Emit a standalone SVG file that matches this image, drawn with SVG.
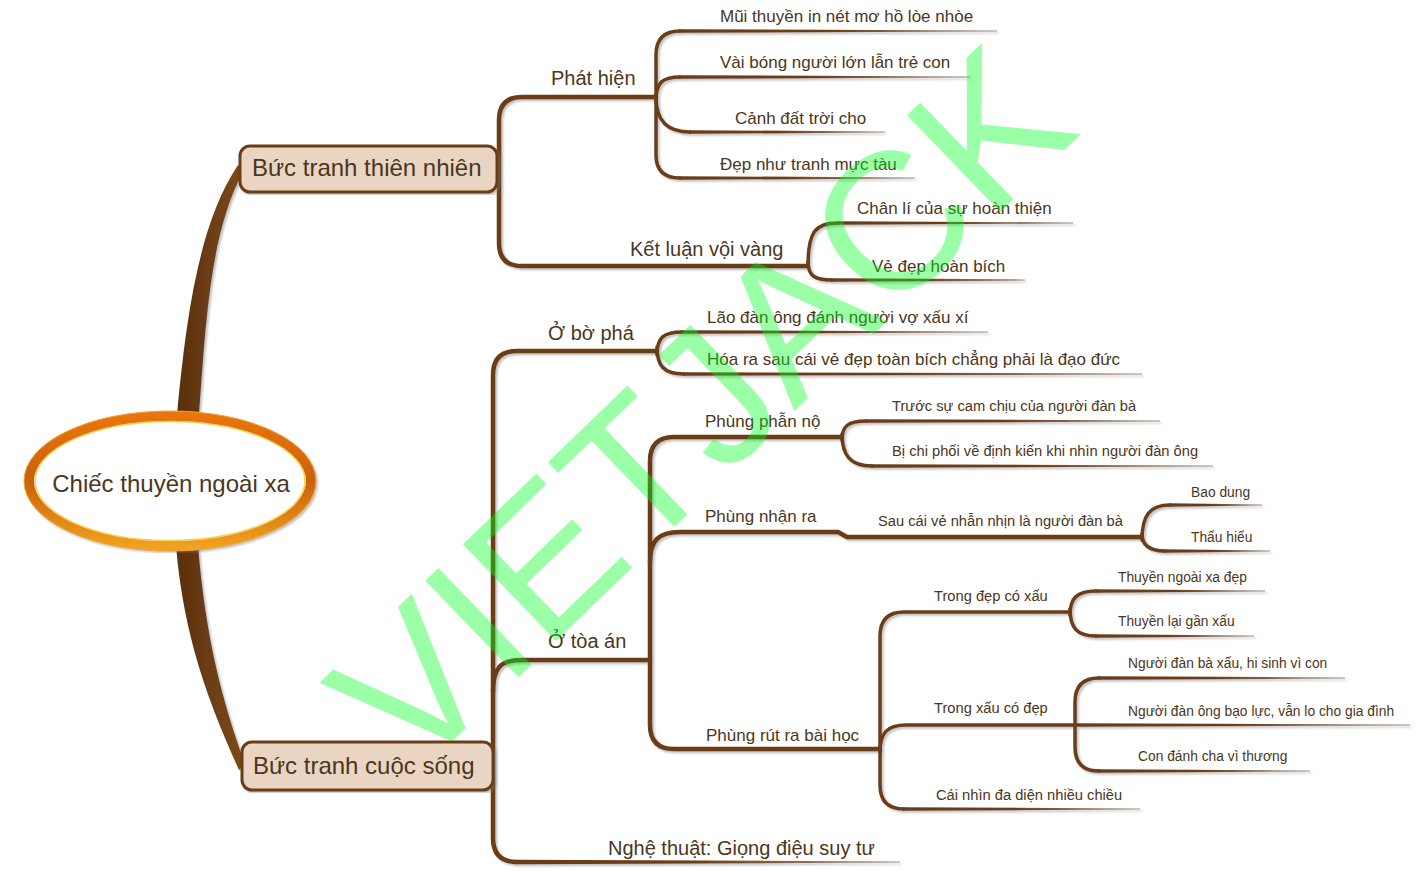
<svg xmlns="http://www.w3.org/2000/svg" width="1417" height="871" viewBox="0 0 1417 871">
<defs>
<style>
.t{font-family:"Liberation Sans",Arial,sans-serif;fill:#4b3621}
.l1{font-size:24px}
.l2{font-size:20px}
.l3{font-size:17px}
.l4{font-size:14.7px}
.l5{font-size:13.8px}
.c{fill:none;stroke:#6b3c14;stroke-linecap:round;stroke-linejoin:round}
.cm{stroke-width:4.5}
.cs{stroke-width:3.5}
.tp{fill:url(#tap)}
.node{fill:#ead5c3;stroke:#6b3c14;stroke-width:3}
.wm{font-family:"Liberation Sans",Arial,sans-serif;font-size:195px;fill:rgb(0,255,30);opacity:0.39}
</style>
<linearGradient id="tap" x1="0" y1="0" x2="1" y2="0">
<stop offset="0" stop-color="#6b3c14"/>
<stop offset="0.45" stop-color="#6b3c14"/>
<stop offset="1" stop-color="#a89484"/>
</linearGradient>
<linearGradient id="trk" x1="0" y1="0" x2="1" y2="0">
<stop offset="0" stop-color="#5a300e"/>
<stop offset="1" stop-color="#7e4a1a"/>
</linearGradient>
<linearGradient id="ring" x1="0" y1="0" x2="0" y2="1">
<stop offset="0" stop-color="#e8740e"/>
<stop offset="0.5" stop-color="#c9620a"/>
<stop offset="1" stop-color="#f0a020"/>
</linearGradient>
<filter id="sh" x="-5%" y="-5%" width="110%" height="110%">
<feDropShadow dx="2" dy="2" stdDeviation="1" flood-color="#777" flood-opacity="0.45"/>
</filter>
</defs>
<rect width="1417" height="871" fill="#ffffff"/>

<g id="connectors" filter="url(#sh)">
<path d="M 177 414 C 186 320 198 225 238 165 L 244 170 C 210 232 206 320 199 414 Z" fill="url(#trk)"/>
<path d="M 176 546 C 184 640 210 705 239 770 L 245 764 C 222 700 206 640 198 546 Z" fill="url(#trk)"/>

<path class="c cm" d="M 656 97 L 522 97 Q 499 97 499 120 L 499 243 Q 499 266 522 266 L 808 266"/>
<path class="c cs" d="M 656 97 L 656 55 Q 656 31 680 31"/>
<path class="c cs" d="M 656 100 C 656 83 662 77 680 77"/>
<path class="c cs" d="M 656 97 C 656 122 668 132 690 132"/>
<path class="c cs" d="M 656 97 L 656 155 Q 656 178 680 178"/>
<polygon class="tp" points="679,29.2 997,30.4 997,31.6 679,32.8"/>
<polygon class="tp" points="679,75.2 970,76.4 970,77.6 679,78.8"/>
<polygon class="tp" points="689,130.2 885,131.4 885,132.6 689,133.8"/>
<polygon class="tp" points="679,176.2 915,177.4 915,178.6 679,179.8"/>
<path class="c cs" d="M 808 266 C 808 232 815 223 838 223"/>
<path class="c cs" d="M 808 262 C 808 276 815 280 832 280"/>
<polygon class="tp" points="837,221.2 1073,222.4 1073,223.6 837,224.8"/>
<polygon class="tp" points="831,278.2 1025,279.4 1025,280.6 831,281.8"/>

<path class="c cm" d="M 657 351 L 517 351 Q 493 351 493 375 L 493 838 Q 493 862 517 862"/>
<polygon points="516,859.8 900,861.4 900,862.6 516,864.2" fill="url(#tap)"/>
<path class="c cm" d="M 493 692 C 493 668 500 660 522 660 L 650 660"/>
<path class="c cs" d="M 657 355 C 657 338 663 332 682 332"/>
<path class="c cs" d="M 657 347 C 657 365 663 374 684 374"/>
<polygon class="tp" points="681,330.2 988,331.4 988,332.6 681,333.8"/>
<polygon class="tp" points="683,372.2 1142,373.4 1142,374.6 683,375.8"/>
<path class="c cm" d="M 650 660 L 650 461 Q 650 437 674 437 L 842 437"/>
<path class="c cm" d="M 650 660 L 650 725 Q 650 749 674 749 L 880 749"/>
<path class="c cm" d="M 650 562 C 650 541 658 532 680 532 L 838 532 L 847 537 L 1142 537"/>
<path class="c cs" d="M 842 440 C 842 426 848 421 866 421"/>
<path class="c cs" d="M 842 434 C 842 455 850 466 872 466"/>
<polygon class="tp" points="865,419.2 1160,420.4 1160,421.6 865,422.8"/>
<polygon class="tp" points="871,464.2 1213,465.4 1213,466.6 871,467.8"/>
<path class="c cs" d="M 1142 540 C 1142 515 1150 505 1170 505"/>
<path class="c cs" d="M 1142 534 C 1142 544 1148 551 1165 551"/>
<polygon class="tp" points="1169,503.2 1262,504.4 1262,505.6 1169,506.8"/>
<polygon class="tp" points="1164,549.2 1270,550.4 1270,551.6 1164,552.8"/>
<path class="c cs" d="M 880 749 L 880 636 Q 880 612 904 612 L 1070 612"/>
<path class="c cs" d="M 880 752 C 880 733 887 725 906 725 L 1075 725"/>
<path class="c cs" d="M 880 749 L 880 785 Q 880 809 904 809"/>
<polygon class="tp" points="903,807.2 1140,808.4 1140,809.6 903,810.8"/>
<path class="c cs" d="M 1070 615 C 1070 598 1077 591 1096 591"/>
<path class="c cs" d="M 1070 609 C 1070 628 1077 636 1096 636"/>
<polygon class="tp" points="1095,589.2 1265,590.4 1265,591.6 1095,592.8"/>
<polygon class="tp" points="1095,634.2 1254,635.4 1254,636.6 1095,637.8"/>
<path class="c cs" d="M 1075 725 L 1075 702 Q 1075 678 1099 678"/>
<path class="c cs" d="M 1075 725 L 1075 747 Q 1075 771 1099 771"/>
<polygon class="tp" points="1098,676.2 1345,677.4 1345,678.6 1098,679.8"/>
<polygon class="tp" points="1074,723.2 1410,724.4 1410,725.6 1074,726.8"/>
<polygon class="tp" points="1098,769.2 1310,770.4 1310,771.6 1098,772.8"/>
</g>

<g id="center">
<ellipse cx="170" cy="481" rx="141" ry="65" fill="#ffffff" stroke="url(#ring)" stroke-width="10" filter="url(#sh)"/>
<ellipse cx="170" cy="481" rx="135" ry="59.5" fill="none" stroke="#f8cf55" stroke-width="1.5"/>
<ellipse cx="170" cy="481" rx="146" ry="70" fill="none" stroke="#f5a52a" stroke-width="1"/>
<text class="t l1" x="171" y="492" text-anchor="middle">Chiếc thuyền ngoài xa</text>
</g>

<g id="n-thien-nhien">
<rect class="node" x="240" y="146" width="257" height="46" rx="10" filter="url(#sh)"/>
<text class="t l1" x="252" y="176">Bức tranh thiên nhiên</text>
</g>
<g id="n-cuoc-song">
<rect class="node" x="242" y="742" width="251" height="48" rx="10" filter="url(#sh)"/>
<text class="t l1" x="253" y="774">Bức tranh cuộc sống</text>
</g>

<g id="n-phat-hien"><text class="t l2" x="551" y="85">Phát hiện</text></g>
<g id="n-mui"><text class="t l3" x="720" y="22">Mũi thuyền in nét mơ hồ lòe nhòe</text></g>
<g id="n-vai"><text class="t l3" x="720" y="68">Vài bóng người lớn lẫn trẻ con</text></g>
<g id="n-canh"><text class="t l3" x="735" y="124">Cảnh đất trời cho</text></g>
<g id="n-dep"><text class="t l3" x="720" y="170">Đẹp như tranh mực tàu</text></g>
<g id="n-ket-luan"><text class="t l2" x="630" y="256">Kết luận vội vàng</text></g>
<g id="n-chan-li"><text class="t l3" x="857" y="214">Chân lí của sự hoàn thiện</text></g>
<g id="n-ve-dep"><text class="t l3" x="872" y="272">Vẻ đẹp hoàn bích</text></g>

<g id="n-bo-pha"><text class="t l2" x="548" y="340">Ở bờ phá</text></g>
<g id="n-lao"><text class="t l3" x="707" y="323">Lão đàn ông đánh người vợ xấu xí</text></g>
<g id="n-hoa-ra"><text class="t l3" x="707" y="365">Hóa ra sau cái vẻ đẹp toàn bích chẳng phải là đạo đức</text></g>
<g id="n-toa-an"><text class="t l2" x="548" y="648">Ở tòa án</text></g>
<g id="n-phan-no"><text class="t l3" x="705" y="427">Phùng phẫn nộ</text></g>
<g id="n-truoc"><text class="t l4" x="892" y="411">Trước sự cam chịu của người đàn bà</text></g>
<g id="n-bi-chi"><text class="t l4" x="892" y="456">Bị chi phối về định kiến khi nhìn người đàn ông</text></g>
<g id="n-nhan-ra"><text class="t l3" x="705" y="522">Phùng nhận ra</text></g>
<g id="n-sau-cai"><text class="t l4" x="878" y="526">Sau cái vẻ nhẫn nhịn là người đàn bà</text></g>
<g id="n-bao-dung"><text class="t l5" x="1191" y="497">Bao dung</text></g>
<g id="n-thau-hieu"><text class="t l5" x="1191" y="542">Thấu hiểu</text></g>
<g id="n-bai-hoc"><text class="t l3" x="706" y="741">Phùng rút ra bài học</text></g>
<g id="n-dep-co-xau"><text class="t l4" x="934" y="601">Trong đẹp có xấu</text></g>
<g id="n-ngoai-xa"><text class="t l5" x="1118" y="582">Thuyền ngoài xa đẹp</text></g>
<g id="n-gan-xau"><text class="t l5" x="1118" y="626">Thuyền lại gần xấu</text></g>
<g id="n-xau-co-dep"><text class="t l4" x="934" y="713">Trong xấu có đẹp</text></g>
<g id="n-dan-ba"><text class="t l5" x="1128" y="668">Người đàn bà xấu, hi sinh vì con</text></g>
<g id="n-dan-ong"><text class="t l5" x="1128" y="716">Người đàn ông bạo lực, vẫn lo cho gia đình</text></g>
<g id="n-con"><text class="t l5" x="1138" y="761">Con đánh cha vì thương</text></g>
<g id="n-cai-nhin"><text class="t l4" x="936" y="800">Cái nhìn đa diện nhiều chiều</text></g>
<g id="n-nghe-thuat"><text class="t l2" x="608" y="855">Nghệ thuật: Giọng điệu suy tư</text></g>

<g id="watermark">
<text class="wm" transform="translate(412,780) rotate(-44)">VIETJACK</text>
</g>
</svg>
